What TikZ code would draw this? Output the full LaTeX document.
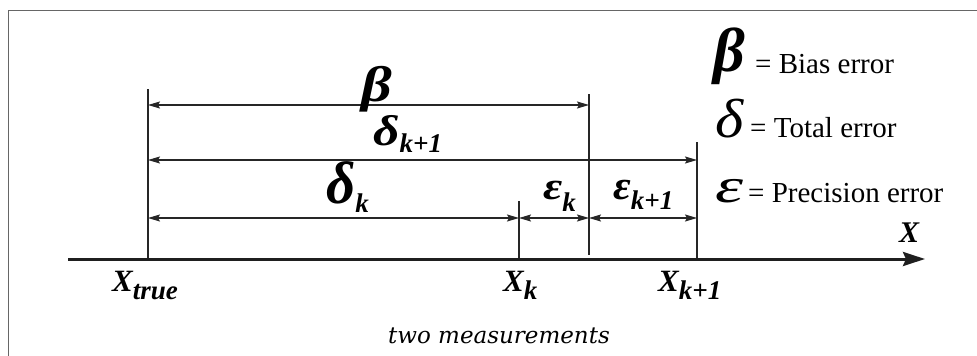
\documentclass[tikz,border=0pt]{standalone}
\usepackage{fontspec}
\setmainfont{Liberation Serif}
\newfontfamily\dvs{DejaVu Serif}
\usetikzlibrary{arrows.meta}
\newcommand{\fsz}[1]{\fontsize{#1}{#1}\selectfont}
% #1 size, #2 xscale, #3 glyph
\newcommand{\gk}[3]{\scalebox{#2}[1]{\fsz{#1}\bfseries\itshape #3}}
\newcommand{\gr}[3]{\scalebox{#2}[1]{\fsz{#1}\itshape #3}}
% #1 drop, #2 text
\newcommand{\sub}[2]{\raisebox{-#1pt}{\fsz{27}\bfseries\itshape #2}}
\newcommand{\xlab}[1]{{\fsz{31}\bfseries\itshape X}\raisebox{-8pt}{\fsz{27}\bfseries\itshape #1}}
\begin{document}
\begin{tikzpicture}[x=1pt,y=-1pt,
  dimline/.style={line width=1.1pt,draw=black!85,{Stealth[length=12pt,width=7pt,inset=2pt]}-{Stealth[length=12pt,width=7pt,inset=2pt]}},
  tick/.style={line width=1.1pt,draw=black!85},
  axisline/.style={line width=3pt,draw=black!88,-{Stealth[length=22pt,width=14pt,inset=3pt]}},
  lbl/.style={inner sep=0pt,anchor=base west},
  legtxt/.style={inner sep=0pt,anchor=base west,font=\fsz{29}}]
\useasboundingbox (0,0) rectangle (977,356);
\fill[white] (0,0) rectangle (977,356);
% frame
\draw[line width=1.5pt,draw=black!60] (8.5,356) -- (8.5,10.5) -- (977,10.5);
% coordinates
\coordinate (t0) at (148,89);  \coordinate (t1) at (148,259);
\coordinate (k0) at (519,201); \coordinate (k1) at (519,259);
\coordinate (b0) at (589,94);  \coordinate (b1) at (589,255);
\coordinate (m0) at (697,142); \coordinate (m1) at (697,259);
\coordinate (a0) at (68,259);  \coordinate (a1) at (925,259);
\coordinate (bl) at (148,105); \coordinate (br) at (589,105);
\coordinate (dl) at (148,160); \coordinate (dr) at (697,160);
\coordinate (el) at (148,218); \coordinate (ek) at (519,218);
\coordinate (eb) at (589,218); \coordinate (em) at (697,218);
% ticks
\draw[tick] (t0) -- (t1);
\draw[tick] (k0) -- (k1);
\draw[tick] (b0) -- (b1);
\draw[tick] (m0) -- (m1);
% dimension arrows
\draw[dimline] (bl) -- (br);
\draw[dimline] (dl) -- (dr);
\draw[dimline] (el) -- (ek);
\draw[dimline] (ek) -- (eb);
\draw[dimline] (eb) -- (em);
% axis
\draw[axisline] (a0) -- (a1);
% labels
\node[lbl] (lbeta) at (361,101) {\gk{50}{1.2}{β}};
\node[lbl] (ldk1) at (373,145) {\gk{43}{1.2}{δ}\sub{7}{k+1}};
\node[lbl] (ldk) at (326,203) {\gk{60}{0.95}{δ}\sub{9}{k}};
\node[lbl] (lek) at (543,199) {\gk{39}{1.2}{ε}\sub{12}{k}};
\node[lbl] (lek1) at (613,199) {\gk{41}{1.05}{ε}\sub{10}{k+1}};
\node[lbl] (xtrue) at (112,291) {\xlab{true}};
\node[lbl] (xk) at (503,291) {\xlab{k}};
\node[lbl] (xk1) at (658,291) {\xlab{k+1}};
\node[inner sep=0pt,anchor=base] (xax) at (909,242) {{\fsz{30}\bfseries\itshape X}};
\node[inner sep=0pt,anchor=base] (cap) at (499,343) {{\dvs\itshape\fsz{23}two measurements}};
% legend
\node[lbl] (gb) at (713,71) {\gk{62}{1.0}{β}};
\node[legtxt] (tb) at (755,73) {= Bias error};
\node[lbl] (gd) at (715,137) {\gr{55}{1.1}{δ}};
\node[legtxt] (td) at (750,137) {= Total error};
\node[lbl] (ge) at (715,202) {\gr{49}{1.45}{ε}};
\node[legtxt] (te) at (748,202) {= Precision error};
\end{tikzpicture}
\end{document}
